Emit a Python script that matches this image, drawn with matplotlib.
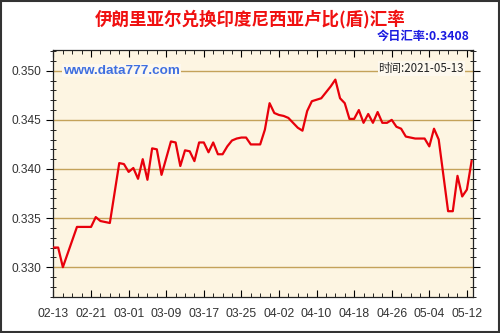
import matplotlib
matplotlib.use("Agg")
import matplotlib.pyplot as plt
from matplotlib.patches import Rectangle
from matplotlib.ticker import MultipleLocator, FormatStrFormatter
import pandas as pd

title = "伊朗里亚尔兑换印度尼西亚卢比(盾)汇率"
today_label = "今日汇率:0.3408"
time_label = "时间:2021-05-13"
site_label = "www.data777.com"

dates = ["02-13", "02-14", "02-15", "02-18", "02-21", "02-22", "02-23", "02-25",
         "02-27", "02-28", "03-01", "03-02", "03-03", "03-04", "03-05", "03-06",
         "03-07", "03-08", "03-10", "03-11", "03-12", "03-13", "03-14", "03-15",
         "03-16", "03-17", "03-18", "03-19", "03-20", "03-21", "03-22", "03-23",
         "03-24", "03-25", "03-26", "03-27", "03-29", "03-30", "03-31", "04-01",
         "04-02", "04-03", "04-04", "04-06", "04-07", "04-08", "04-09", "04-11",
         "04-12", "04-13", "04-14", "04-15", "04-16", "04-17", "04-18", "04-19",
         "04-20", "04-21", "04-22", "04-23", "04-24", "04-25", "04-26", "04-27",
         "04-28", "04-29", "05-01", "05-03", "05-04", "05-05", "05-06", "05-08",
         "05-09", "05-10", "05-11", "05-12", "05-13"]
rates = [0.3320, 0.3320, 0.3300, 0.3341, 0.3341, 0.3351, 0.3347, 0.3345,
         0.3406, 0.3405, 0.3397, 0.3401, 0.3390, 0.3410, 0.3389, 0.3421,
         0.3420, 0.3394, 0.3428, 0.3427, 0.3403, 0.3419, 0.3418, 0.3408,
         0.3427, 0.3427, 0.3417, 0.3427, 0.3415, 0.3415, 0.3423, 0.3429,
         0.3431, 0.3432, 0.3432, 0.3425, 0.3425, 0.3440, 0.3467, 0.3457,
         0.3455, 0.3454, 0.3452, 0.3442, 0.3439, 0.3459, 0.3469, 0.3472,
         0.3478, 0.3484, 0.3491, 0.3472, 0.3467, 0.3451, 0.3451, 0.3460,
         0.3447, 0.3456, 0.3447, 0.3458, 0.3447, 0.3447, 0.3450, 0.3443,
         0.3441, 0.3433, 0.3431, 0.3431, 0.3423, 0.3441, 0.3430, 0.3357,
         0.3357, 0.3393, 0.3372, 0.3379, 0.3408]

x = pd.to_datetime(["2021-" + d for d in dates])

plt.rcParams['font.family'] = ['Liberation Sans', 'Noto Sans CJK SC', 'DejaVu Sans']

fig = plt.figure(figsize=(5.0, 3.33), dpi=100)
fig.patch.set_facecolor("white")
ax = fig.add_axes([0.106, 0.108, 0.84, 0.742])
ax.set_facecolor("#FDF5E2")

ax.plot(x, rates, color="#E8000B", lw=1.6, zorder=3)

start = pd.Timestamp("2021-02-13")
ax.set_xlim(start - pd.Timedelta(days=0.1), start + pd.Timedelta(days=89.3))
ax.set_ylim(0.32696, 0.35212)

major_days = [start + pd.Timedelta(days=8 * i) for i in range(12)]
ax.set_xticks(major_days)
ax.set_xticklabels([d.strftime("%m-%d") for d in major_days])
ax.set_xticks([start + pd.Timedelta(days=2 * i) for i in range(45)], minor=True)

ax.yaxis.set_major_locator(MultipleLocator(0.005))
ax.yaxis.set_minor_locator(MultipleLocator(0.001))
ax.yaxis.set_major_formatter(FormatStrFormatter("%.3f"))

ax.grid(axis="y", which="major", color="#C4A25A", lw=1.0, zorder=1)
ax.set_axisbelow(True)

ax.tick_params(axis="y", which="major", direction="out", length=5, width=0.8,
               labelsize=8.6, labelcolor="#333333", right=True, left=True)
ax.tick_params(axis="y", which="minor", direction="inout", length=4, width=0.6,
               right=True, left=True)
ax.tick_params(axis="x", which="major", direction="in", length=5, width=0.8,
               labelsize=8.7, labelcolor="#333333", top=True, bottom=True, pad=8)
ax.tick_params(axis="x", which="minor", direction="in", length=3, width=0.6,
               top=True, bottom=True)

for s in ax.spines.values():
    s.set_color("#222222")
    s.set_linewidth(0.9)

fig.text(0.5, 1 - 19 / 333, title, color="#F01010", fontsize=12.6, fontweight="bold",
         ha="center", va="center", family=['Noto Sans CJK SC', 'DejaVu Sans'])
fig.text(470 / 500, 1 - 36 / 333, today_label, color="#1A1AE0", fontsize=8.8,
         fontweight="bold", ha="right", va="center",
         family=['Noto Sans CJK SC', 'DejaVu Sans'])

ax.text(63 / 500, 1 - 70.5 / 333, site_label, transform=fig.transFigure,
        color="#3F6FE0", fontsize=9.7, fontweight="bold", ha="left", va="center",
        family=['Liberation Sans', 'DejaVu Sans'], zorder=4,
        bbox=dict(facecolor="#FDF8EE", edgecolor="none", pad=0.5))
ax.text(464 / 500, 1 - 68.5 / 333, time_label, transform=fig.transFigure,
        color="#222222", fontsize=8.3, ha="right", va="center",
        family=['Noto Sans CJK SC', 'DejaVu Sans'], zorder=4,
        bbox=dict(facecolor="#FDF8EE", edgecolor="none", pad=0.5))

fig.patches.append(Rectangle((0.002, 0.003), 0.996, 0.994, transform=fig.transFigure,
                             fill=False, edgecolor="#333333", lw=1.5))

fig.savefig("out.png", dpi=100)
